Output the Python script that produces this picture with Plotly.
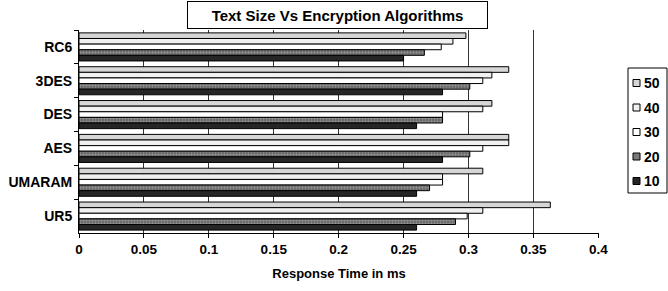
import plotly.graph_objects as go

categories = ["RC6", "3DES", "DES", "AES", "UMARAM", "UR5"]
series_names = ["50", "40", "30", "20", "10"]
s50 = [0.298, 0.331, 0.318, 0.331, 0.311, 0.363]
s40 = [0.288, 0.318, 0.311, 0.331, 0.280, 0.311]
s30 = [0.279, 0.311, 0.280, 0.311, 0.280, 0.299]
s20 = [0.266, 0.301, 0.280, 0.301, 0.270, 0.290]
s10 = [0.250, 0.280, 0.260, 0.280, 0.260, 0.260]
x_ticks = [0, 0.05, 0.1, 0.15, 0.2, 0.25, 0.3, 0.35, 0.4]
x_tick_labels = ["0", "0.05", "0.1", "0.15", "0.2", "0.25", "0.3", "0.35", "0.4"]

values = [s50, s40, s30, s20, s10]
fills = ["#d6d6d6", "#f0f0f0", "#ffffff", "#7a7a7a", "#262626"]

FONT = "Liberation Sans, Arial, sans-serif"
W, H = 668, 291
L, R, T, B = 79, 69, 30, 58
PW, PH = W - L - R, H - T - B


def px(x):
    return (x - L) / PW


def py(y):
    return (H - B - y) / PH


fig = go.Figure()
for name, vals, col in zip(series_names, values, fills):
    marker = dict(color=col, line=dict(color="#000000", width=1))
    if name == "20":
        marker["pattern"] = dict(shape=".", bgcolor="#6a6a6a", fgcolor="#c4c4c4",
                                 size=3, solidity=0.35)
    fig.add_trace(go.Bar(
        y=categories, x=vals, name=name, orientation="h",
        marker=marker, showlegend=False,
    ))

fig.update_layout(
    width=W, height=H,
    margin=dict(l=L, r=R, t=T, b=B, pad=0),
    paper_bgcolor="white", plot_bgcolor="white",
    barmode="group", bargap=0.17, bargroupgap=0.0,
    font=dict(family=FONT, size=13, color="#000000"),
    xaxis=dict(
        range=[0, 0.4005], tickvals=x_ticks, ticktext=x_tick_labels,
        showgrid=True, gridcolor="#333333", gridwidth=1,
        showline=True, linecolor="#000000", linewidth=1,
        ticks="outside", ticklen=4, tickcolor="#000000",
        tickfont=dict(family=FONT, size=13.5, weight="bold"),
        zeroline=False, automargin=False,
        title=dict(text="<b>Response Time in ms</b>", standoff=12,
                   font=dict(family=FONT, size=13)),
    ),
    yaxis=dict(
        autorange="reversed", type="category", automargin=False,
        showline=True, linecolor="#000000", linewidth=1,
        ticks="outside", ticklen=4, tickcolor="#000000", tickson="boundaries",
        tickfont=dict(family=FONT, size=14, weight="bold"),
        showgrid=False, ticklabelstandoff=3,
    ),
)

# Title in a bordered box
fig.add_annotation(
    xref="paper", yref="paper", x=px(337.5), y=py(15), xanchor="center", yanchor="middle",
    text="<b>Text Size Vs Encryption Algorithms</b>", showarrow=False,
    font=dict(family=FONT, size=15, color="#000000"),
    width=297, height=24, borderpad=1, bordercolor="#000000", borderwidth=1,
    bgcolor="white",
)

# Legend box
fig.add_shape(type="rect", xref="paper", yref="paper",
              x0=px(628), x1=px(667), y0=py(193), y1=py(68),
              line=dict(color="#000000", width=1), fillcolor="white", layer="above")
item_y = [83, 107.5, 132, 156.5, 181]
for name, col, yy in zip(series_names, fills, item_y):
    fig.add_shape(type="rect", xref="paper", yref="paper",
                  x0=px(633), x1=px(640), y0=py(yy + 3.5), y1=py(yy - 3.5),
                  line=dict(color="#000000", width=1), fillcolor=col, layer="above")
    fig.add_annotation(xref="paper", yref="paper", x=px(642), y=py(yy),
                       xanchor="left", yanchor="middle", showarrow=False,
                       text="<b>%s</b>" % name,
                       font=dict(family=FONT, size=14, color="#000000"))

fig.write_html("out.html", config={"displayModeBar": False},
               post_script="document.body.style.margin='0';document.body.style.overflow='hidden';")
